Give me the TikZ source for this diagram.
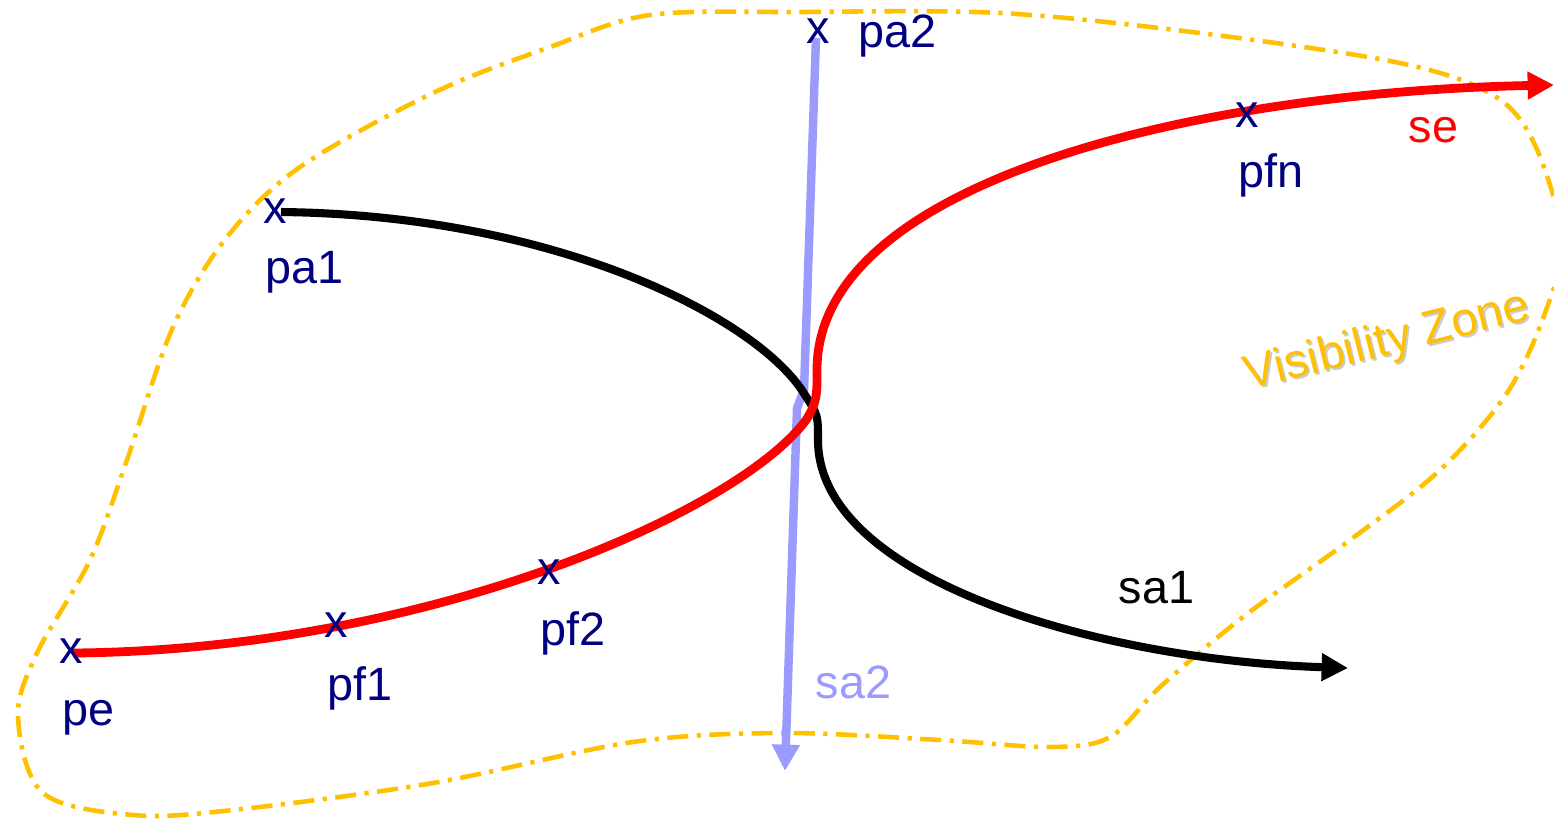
\documentclass[tikz,border=0pt]{standalone}
\usepackage{fontspec}
\setmainfont{Liberation Sans}
\usepackage{xcolor}
\usepackage{tikz}
\usetikzlibrary{arrows.meta}
\definecolor{navy}{RGB}{0,0,128}
\definecolor{zone}{RGB}{255,192,0}
\definecolor{lav}{RGB}{155,155,255}

\begin{document}
\begin{tikzpicture}[x=0.01cm, y=-0.01cm,
    lbl/.style={anchor=base west, inner sep=0pt, font=\fontsize{13.3}{15}\selectfont},
    xmark/.style={inner sep=0pt, text=navy, font=\fontsize{13.3}{15}\selectfont},
    tip/.style={-{Triangle[length=7.5pt, width=7.5pt]}}]
    \useasboundingbox (0,0) rectangle (1554,820);
    % visibility zone
    \draw[zone, line width=1.3pt, dash pattern=on 6pt off 2.4pt on 1.2pt off 2.4pt]
        plot[smooth cycle, tension=0.55] coordinates {(650,15) (800,12) (1000,13) (1200,33) (1400,63) (1493,95)
        (1535,145) (1562,240) (1545,313) (1507,393) (1440,470) (1350,540) (1243,617) (1160,687) (1110,737)
        (1050,747) (940,740) (783,733) (633,742) (433,783) (233,810) (133,815) (43,793) (18,717) (37,653)
        (90,560) (127,460) (173,327) (227,237) (300,167) (433,93) (550,47)};
    \node[lbl, text=gray!40, rotate=14, font=\fontsize{13.5}{15}\selectfont] (zoneshadow) at (1250,392) {Visibility Zone};
    \node[lbl, text=zone, rotate=14, font=\fontsize{13.5}{15}\selectfont] (zonelbl) at (1248,390) {Visibility Zone};

    \coordinate (pe) at (73,653);
    \coordinate (pa1) at (281,212);
    \coordinate (pa2) at (816,38);
    \coordinate (sa1end) at (1348,668);
    \coordinate (sa2end) at (785,771);
    \coordinate (seend) at (1554,85);

    % sa2
    \draw[lav, line width=2.4pt, tip] (pa2) -- (804,390) -- (797,408) -- (sa2end);
    % sa1
    \draw[black, line width=2.3pt, tip] (pa1) .. controls (560,215) and (760,320) .. (805,395)
        .. controls (818,415) .. (818,440) .. controls (818,580) and (1100,660) .. (sa1end);
    % se
    \draw[red, line width=2.5pt, tip] (pe) .. controls (430,650) and (740,510) .. (806,420)
        .. controls (818,402) and (817,390) .. (817,370) .. controls (817,180) and (1200,92) .. (seend);

    \foreach \p/\x/\y in {pe/71/651, pf1/336/625, pf2/549/572, pfn/1247/115, pa1/275/211, pa2/818/31}
        \node[xmark] (x\p) at (\x,\y) {x};

    \node[lbl, text=navy] (pelbl) at (62,725) {pe};
    \node[lbl, text=navy] (pf1lbl) at (327,700) {pf1};
    \node[lbl, text=navy] (pf2lbl) at (540,645) {pf2};
    \node[lbl, text=navy] (pfnlbl) at (1238,187) {pfn};
    \node[lbl, text=navy] (pa1lbl) at (265,283) {pa1};
    \node[lbl, text=navy] (pa2lbl) at (858,47) {pa2};
    \node[lbl, text=red] (selbl) at (1408,142) {se};
    \node[lbl, text=black] (sa1lbl) at (1118,603) {sa1};
    \node[lbl, text=lav] (sa2lbl) at (815,698) {sa2};
\end{tikzpicture}
\end{document}
